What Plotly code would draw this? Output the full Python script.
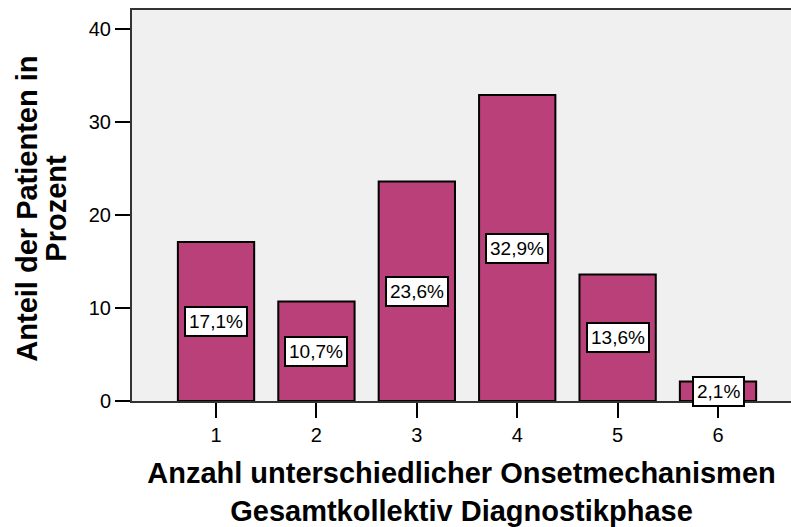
import plotly.graph_objects as go

categories = [1, 2, 3, 4, 5, 6]
percent = [17.1, 10.7, 23.6, 32.9, 13.6, 2.1]
y_ticks = [0, 10, 20, 30, 40]
y_title_lines = ["Anteil der Patienten in", "Prozent"]

BAR_COLOR = "#BA407A"
FONT = "Liberation Sans, Arial, sans-serif"

fig = go.Figure()
fig.add_bar(
    x=categories,
    y=percent,
    width=0.76,
    marker={"color": BAR_COLOR, "line": {"color": "black", "width": 2}},
    hoverinfo="skip",
)

# value boxes sit at half height of each bar
for cat, val in zip(categories, percent):
    fig.add_annotation(
        x=cat,
        y=max(val / 2, 1.0),
        text=f"{val:.1f}%".replace(".", ","),
        showarrow=False,
        font={"family": FONT, "size": 19, "color": "black"},
        bgcolor="white",
        bordercolor="black",
        borderwidth=2,
        borderpad=3,
    )

# y title lines are set one by one, the line spacing is tighter than plotly's
for i, line in enumerate(y_title_lines):
    fig.add_annotation(
        text=f"<b>{line}</b>",
        xref="paper",
        yref="paper",
        x=-0.1593 + i * 0.044,
        y=0.492,
        xanchor="center",
        yanchor="middle",
        textangle=-90,
        showarrow=False,
        font={"family": FONT, "size": 29, "color": "black"},
    )

fig.update_layout(
    width=791,
    height=527,
    margin={"l": 132, "r": 0, "t": 10, "b": 126},
    paper_bgcolor="white",
    plot_bgcolor="#F0F0F0",
    showlegend=False,
    font={"family": FONT, "size": 20, "color": "black"},
)
fig.update_xaxes(
    range=[0.163, 6.727],
    tickvals=categories,
    ticks="outside",
    ticklen=15,
    tickwidth=2,
    tickcolor="black",
    showline=True,
    linecolor="#333333",
    linewidth=2,
    mirror=True,
    showgrid=False,
    zeroline=False,
    title={
        "text": "<b>Anzahl unterschiedlicher Onsetmechanismen<br>Gesamtkollektiv Diagnostikphase</b>",
        "font": {"size": 29},
        "standoff": 18,
    },
)
fig.update_yaxes(
    range=[0, 42.05],
    tickvals=y_ticks,
    ticks="outside",
    ticklen=15,
    tickwidth=2,
    tickcolor="black",
    showline=True,
    linecolor="#333333",
    linewidth=2,
    showgrid=False,
    zeroline=False,
)

# drop the default page margin so the figure fills the window
fig.write_html(
    "out.html",
    config={"displayModeBar": False},
    post_script="document.body.style.margin='0';document.body.style.overflow='hidden';",
)
